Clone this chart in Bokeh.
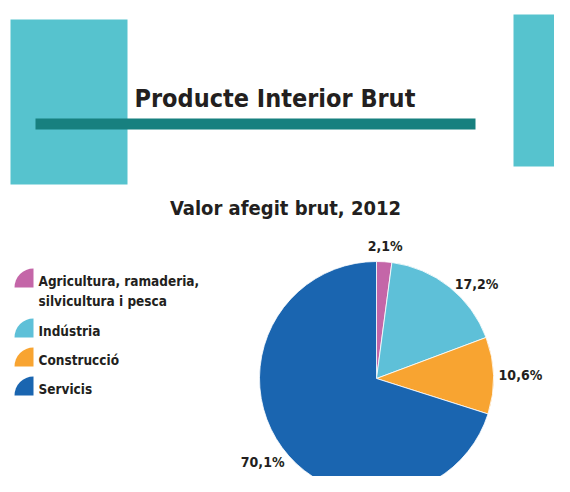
from bokeh.plotting import figure
from bokeh.models import Range1d, ColumnDataSource
from bokeh.core.properties import value
from bokeh.embed import file_html
from bokeh.resources import INLINE
import math

# ---- data ----
title_text = "Producte Interior Brut"
subtitle_text = "Valor afegit brut, 2012"
categories = ["Agricultura, ramaderia,\nsilvicultura i pesca", "Indústria", "Construcció", "Servicis"]
shares = [2.1, 17.2, 10.6, 70.1]
share_labels = ["2,1%", "17,2%", "10,6%", "70,1%"]
colors = ["#C466A8", "#5EC0D8", "#F8A431", "#1A65B0"]

FONT = value("'DejaVu Sans Condensed', 'Roboto Condensed', Roboto, sans-serif")
TXT = "#231F20"

W, H = 554, 476
# data coordinates == image pixel coordinates (y flipped so up is positive)
def Y(img_y):
    return H - img_y

p = figure(width=W, height=H, output_backend="svg", toolbar_location=None,
           x_range=Range1d(0, W), y_range=Range1d(0, H),
           min_border=0, outline_line_color=None)
p.axis.visible = False
p.grid.visible = False
p.background_fill_color = "white"
p.border_fill_color = "white"

# ---- header decoration ----
p.quad(left=[10], right=[127], top=[Y(19)], bottom=[Y(184)], fill_color="#56C3CE", line_color=None)
p.quad(left=[513], right=[575], top=[Y(14)], bottom=[Y(166)], fill_color="#56C3CE", line_color=None)
p.quad(left=[35], right=[475], top=[Y(118)], bottom=[Y(129)], fill_color="#17807F", line_color=None)
p.text(x=[134], y=[Y(98)], text=[title_text], text_font=FONT, text_font_style="bold",
       text_font_size="25px", text_color=TXT, text_baseline="middle", text_align="left")
p.text(x=[285], y=[Y(207)], text=[subtitle_text], text_font=FONT, text_font_style="bold",
       text_font_size="20px", text_color=TXT, text_baseline="middle", text_align="center")

# ---- pie ----
cx, cy, r = 376, Y(378), 117
total = sum(shares)
starts, ends, mids = [], [], []
cum = 0.0
for s in shares:
    a0 = math.pi / 2 - 2 * math.pi * cum / total
    cum += s
    a1 = math.pi / 2 - 2 * math.pi * cum / total
    starts.append(a0)
    ends.append(a1)
    mids.append((a0 + a1) / 2)
src = ColumnDataSource(dict(start=starts, end=ends, color=colors))
p.wedge(x=cx, y=cy, radius=r, start_angle="start", end_angle="end", direction="clock",
        fill_color="color", line_color="white", line_width=0.8, source=src)

label_r = [133, 138, 144, 141]
label_nudge_deg = [0, -8, 0, 0]
lx = [cx + lr * math.cos(m + math.radians(n)) for lr, m, n in zip(label_r, mids, label_nudge_deg)]
ly = [cy + lr * math.sin(m + math.radians(n)) for lr, m, n in zip(label_r, mids, label_nudge_deg)]
p.text(x=lx, y=ly, text=share_labels, text_font=FONT, text_font_style="bold",
       text_font_size="14px", text_color=TXT, text_align="center", text_baseline="middle")

# ---- legend ----
leg_y = [287, 337, 366, 395]   # bottom of quarter-disc markers (image px)
p.wedge(x=[33] * 4, y=[Y(v) for v in leg_y], radius=19, start_angle=math.pi / 2,
        end_angle=math.pi, fill_color=colors, line_color=None)
tx, ty, tt = [], [], []
for cat, yb in zip(categories, leg_y):
    lines = cat.split("\n")
    for i, ln in enumerate(lines):
        tx.append(38)
        ty.append(Y(yb - 7 + 20 * i))
        tt.append(ln)
p.text(x=tx, y=ty, text=tt, text_font=FONT, text_font_style="bold",
       text_font_size="13.5px", text_color=TXT, text_align="left", text_baseline="middle")

open("out.html", "w").write(file_html(p, INLINE))
